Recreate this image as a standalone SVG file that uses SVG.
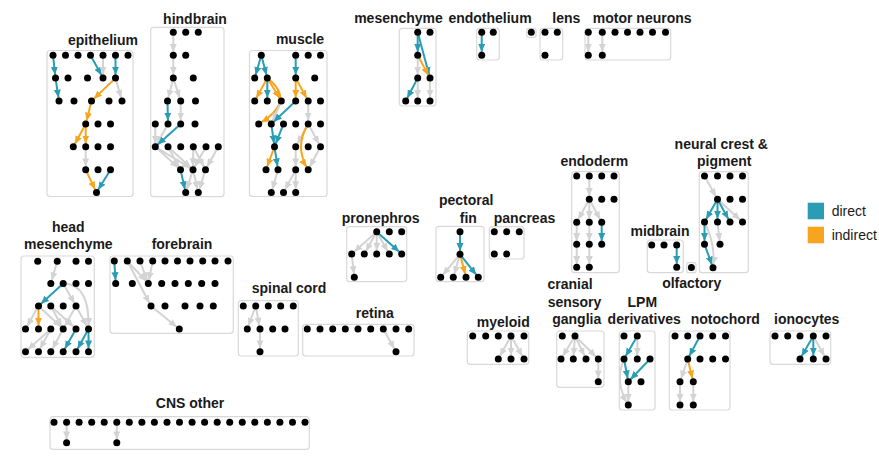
<svg xmlns="http://www.w3.org/2000/svg" width="879" height="469" viewBox="0 0 879 469">
<style>
.box{fill:none;stroke:#d9d9d9;stroke-width:1.2}
.lbl{font-family:"Liberation Sans",Arial,sans-serif;font-weight:bold;font-size:14px;fill:#1a1a1a;text-anchor:middle}
.leg{font-family:"Liberation Sans",Arial,sans-serif;font-size:14px;fill:#1a1a1a}
circle{fill:#000;r:3.5px}
.g{stroke:#d3d3d3;stroke-width:2;fill:none;marker-end:url(#ag)}
.t{stroke:#2a9db5;stroke-width:2;fill:none;marker-end:url(#at)}
.o{stroke:#f7a51f;stroke-width:2;fill:none;marker-end:url(#ao)}
</style>
<defs>
<marker id="ag" markerWidth="9" markerHeight="8" refX="11.3" refY="3.5" orient="auto" markerUnits="userSpaceOnUse"><path d="M0,0 L8,3.5 L0,7 z" fill="#d3d3d3"/></marker>
<marker id="at" markerWidth="9" markerHeight="8" refX="11.3" refY="3.5" orient="auto" markerUnits="userSpaceOnUse"><path d="M0,0 L8,3.5 L0,7 z" fill="#2a9db5"/></marker>
<marker id="ao" markerWidth="9" markerHeight="8" refX="11.3" refY="3.5" orient="auto" markerUnits="userSpaceOnUse"><path d="M0,0 L8,3.5 L0,7 z" fill="#f7a51f"/></marker>
</defs>
<rect width="879" height="469" fill="#fff"/>
<g id="connectors">
<!-- epithelium -->
<line class="t" x1="53" y1="55.2" x2="55.5" y2="78.1"/>
<line class="t" x1="55.5" y1="78.1" x2="59" y2="101"/>
<line class="t" x1="90.5" y1="55.2" x2="103" y2="78.1"/>
<line class="g" x1="103" y1="55.2" x2="103" y2="78.1"/>
<line class="t" x1="115.5" y1="55.2" x2="115.5" y2="78.1"/>
<line class="g" x1="115.5" y1="78.1" x2="122" y2="101"/>
<line class="o" x1="115.5" y1="78.1" x2="91.5" y2="101"/>
<line class="o" x1="91.5" y1="101" x2="85.7" y2="123.9"/>
<line class="o" x1="85.7" y1="123.9" x2="73.3" y2="146.8"/>
<line class="o" x1="85.7" y1="123.9" x2="85.7" y2="146.8"/>
<line class="g" x1="85.7" y1="146.8" x2="85.7" y2="169.7"/>
<line class="o" x1="85.7" y1="169.7" x2="96.5" y2="192.6"/>
<line class="t" x1="110.5" y1="169.7" x2="96.5" y2="192.6"/>
<!-- hindbrain -->
<line class="g" x1="173.3" y1="32.3" x2="173.3" y2="55.2"/>
<line class="g" x1="173.3" y1="55.2" x2="173.3" y2="78.1"/>
<line class="g" x1="173.3" y1="78.1" x2="167.5" y2="101"/>
<line class="g" x1="173.3" y1="78.1" x2="180.7" y2="101"/>
<line class="t" x1="167.5" y1="101" x2="168" y2="123.9"/>
<line class="g" x1="180.7" y1="101" x2="180.7" y2="123.9"/>
<line class="g" x1="155.3" y1="123.9" x2="155.3" y2="146.8"/>
<line class="g" x1="168" y1="123.9" x2="155.3" y2="146.8"/>
<line class="t" x1="180.7" y1="123.9" x2="155.3" y2="146.8"/>
<line class="g" x1="155.3" y1="146.8" x2="180.5" y2="169.7"/>
<line class="g" x1="155.3" y1="146.8" x2="193" y2="169.7"/>
<line class="g" x1="168" y1="146.8" x2="180.5" y2="169.7"/>
<line class="g" x1="168" y1="146.8" x2="193" y2="169.7"/>
<line class="g" x1="193.3" y1="146.8" x2="193" y2="169.7"/>
<line class="g" x1="206" y1="146.8" x2="193" y2="169.7"/>
<line class="g" x1="218.3" y1="146.8" x2="205.5" y2="169.7"/>
<line class="g" x1="193.3" y1="146.8" x2="205.5" y2="169.7"/>
<line class="t" x1="180.5" y1="169.7" x2="185.7" y2="192.6"/>
<line class="g" x1="193" y1="169.7" x2="185.7" y2="192.6"/>
<line class="g" x1="193" y1="169.7" x2="198.3" y2="192.6"/>
<line class="g" x1="205.5" y1="169.7" x2="198.3" y2="192.6"/>
<!-- muscle -->
<line class="t" x1="261.3" y1="55.2" x2="254.7" y2="78.1"/>
<line class="t" x1="261.3" y1="55.2" x2="267.3" y2="78.1"/>
<line class="o" x1="267.3" y1="78.1" x2="254.7" y2="101"/>
<line class="t" x1="267.3" y1="78.1" x2="267.3" y2="101"/>
<line class="o" x1="267.3" y1="78.1" x2="281.3" y2="101"/>
<path class="o" d="M267.3,78.1 Q297,101 258.7,123.9"/>
<line class="g" x1="281.3" y1="101" x2="271.3" y2="123.9"/>
<line class="t" x1="295.7" y1="55.2" x2="295.7" y2="78.1"/>
<line class="o" x1="295.7" y1="78.1" x2="295.7" y2="101"/>
<line class="o" x1="295.7" y1="78.1" x2="308.2" y2="101"/>
<line class="t" x1="295.7" y1="101" x2="271.3" y2="123.9"/>
<line class="g" x1="308.2" y1="101" x2="308.2" y2="123.9"/>
<line class="t" x1="271.3" y1="123.9" x2="274.5" y2="146.8"/>
<line class="t" x1="283.5" y1="123.9" x2="274.5" y2="146.8"/>
<line class="t" x1="274.5" y1="146.8" x2="278" y2="169.7"/>
<line class="o" x1="274.5" y1="146.8" x2="266" y2="169.7"/>
<line class="g" x1="308.2" y1="123.9" x2="295.7" y2="146.8"/>
<line class="g" x1="308.2" y1="123.9" x2="320.5" y2="146.8"/>
<path class="o" d="M308.2,123.9 Q293.8,146.8 308.2,169.7"/>
<line class="g" x1="320.5" y1="146.8" x2="308.2" y2="169.7"/>
<line class="g" x1="295.7" y1="146.8" x2="295.7" y2="169.7"/>
<line class="g" x1="295.7" y1="169.7" x2="283.5" y2="192.6"/>
<line class="g" x1="295.7" y1="169.7" x2="295.7" y2="192.6"/>
<line class="g" x1="278" y1="169.7" x2="271.3" y2="192.6"/>
<!-- mesenchyme -->
<line class="t" x1="417.7" y1="32.3" x2="417.7" y2="55.2"/>
<line class="t" x1="417.7" y1="32.3" x2="430" y2="78.1"/>
<line class="o" x1="417.7" y1="55.2" x2="430" y2="78.1"/>
<line class="g" x1="417.7" y1="55.2" x2="417.7" y2="78.1"/>
<line class="t" x1="417.7" y1="78.1" x2="405.7" y2="101"/>
<line class="g" x1="417.7" y1="78.1" x2="417.7" y2="101"/>
<line class="g" x1="430" y1="78.1" x2="430" y2="101"/>
<!-- endothelium -->
<line class="t" x1="481.7" y1="32.3" x2="481.7" y2="55.2"/>
<!-- motor neurons -->
<line class="g" x1="588.3" y1="32.3" x2="588.3" y2="55.2"/>
<line class="g" x1="602.3" y1="32.3" x2="602.3" y2="55.2"/>
<!-- head mesenchyme -->
<line class="g" x1="57.3" y1="261.3" x2="50.8" y2="283.5"/>
<line class="t" x1="63.2" y1="283.5" x2="38.5" y2="306"/>
<line class="g" x1="63.2" y1="283.5" x2="76" y2="306"/>
<path class="g" d="M63.2,283.5 Q90.2,283.8 88.5,329"/>
<line class="o" x1="38.5" y1="306" x2="38.5" y2="329"/>
<line class="g" x1="38.5" y1="306" x2="25.5" y2="329"/>
<line class="g" x1="38.5" y1="306" x2="63.2" y2="329"/>
<line class="g" x1="50.8" y1="306" x2="63.2" y2="329"/>
<line class="g" x1="76" y1="306" x2="63.2" y2="329"/>
<line class="g" x1="50.8" y1="306" x2="76" y2="329"/>
<line class="g" x1="76" y1="306" x2="88.5" y2="329"/>
<line class="g" x1="50.8" y1="329" x2="25.5" y2="351.7"/>
<line class="g" x1="50.8" y1="329" x2="38.5" y2="351.7"/>
<line class="g" x1="63.2" y1="329" x2="50.8" y2="351.7"/>
<line class="t" x1="76" y1="329" x2="63.2" y2="351.7"/>
<line class="t" x1="88.5" y1="329" x2="76" y2="351.7"/>
<line class="t" x1="88.5" y1="329" x2="88.5" y2="351.7"/>
<!-- forebrain -->
<line class="t" x1="114.3" y1="261" x2="115.7" y2="283.5"/>
<line class="g" x1="127.3" y1="261" x2="148.3" y2="283.5"/>
<line class="g" x1="140" y1="261" x2="148.3" y2="283.5"/>
<line class="g" x1="152.7" y1="261" x2="148.3" y2="283.5"/>
<line class="g" x1="127.3" y1="261" x2="151" y2="306"/>
<line class="g" x1="151" y1="306" x2="179.3" y2="329"/>
<!-- pronephros -->
<line class="g" x1="376.7" y1="231.7" x2="351.7" y2="254"/>
<line class="g" x1="376.7" y1="231.7" x2="364.3" y2="254"/>
<line class="g" x1="376.7" y1="231.7" x2="376.7" y2="254"/>
<line class="g" x1="376.7" y1="231.7" x2="389.3" y2="254"/>
<line class="t" x1="376.7" y1="231.7" x2="401.7" y2="254"/>
<line class="g" x1="351.7" y1="254" x2="354.3" y2="277.3"/>
<!-- pectoral fin -->
<line class="t" x1="460" y1="231.7" x2="460" y2="254.3"/>
<line class="g" x1="460" y1="254.3" x2="440.7" y2="277.3"/>
<line class="g" x1="460" y1="254.3" x2="453.3" y2="277.3"/>
<line class="o" x1="460" y1="254.3" x2="466" y2="277.3"/>
<line class="t" x1="460" y1="254.3" x2="478.3" y2="277.3"/>
<!-- spinal cord -->
<line class="g" x1="255.7" y1="306" x2="247.3" y2="329"/>
<line class="g" x1="255.7" y1="306" x2="260" y2="329"/>
<line class="g" x1="260" y1="329" x2="260" y2="351.7"/>
<!-- retina -->
<line class="g" x1="383.3" y1="329" x2="396" y2="351.7"/>
<!-- myeloid -->
<line class="g" x1="511" y1="336" x2="498.3" y2="359"/>
<line class="g" x1="511" y1="336" x2="511" y2="359"/>
<line class="g" x1="511" y1="336" x2="524" y2="359"/>
<!-- cranial sensory ganglia -->
<line class="g" x1="575" y1="336" x2="561" y2="359"/>
<line class="g" x1="575" y1="336" x2="573.3" y2="359"/>
<line class="g" x1="575" y1="336" x2="586" y2="359"/>
<line class="g" x1="575" y1="336" x2="598.3" y2="359"/>
<line class="g" x1="598.3" y1="359" x2="598.3" y2="381.7"/>
<!-- LPM derivatives -->
<line class="t" x1="637.3" y1="336" x2="624" y2="359"/>
<line class="g" x1="637.3" y1="336" x2="637.3" y2="359"/>
<path class="g" d="M624,359 Q614,382 628.3,405"/>
<line class="g" x1="628.3" y1="381.7" x2="628.3" y2="405"/>
<line class="t" x1="624" y1="359" x2="628.3" y2="381.7"/>
<line class="t" x1="650" y1="359" x2="628.3" y2="381.7"/>
<!-- notochord -->
<line class="t" x1="700" y1="336" x2="687.7" y2="359"/>
<line class="g" x1="687.7" y1="359" x2="680" y2="381.7"/>
<line class="o" x1="687.7" y1="359" x2="693.3" y2="381.7"/>
<line class="g" x1="680" y1="381.7" x2="680" y2="405"/>
<line class="g" x1="693.3" y1="381.7" x2="693.3" y2="405"/>
<!-- ionocytes -->
<line class="t" x1="813.3" y1="336" x2="800" y2="359"/>
<line class="t" x1="813.3" y1="336" x2="813.3" y2="359"/>
<line class="g" x1="813.3" y1="336" x2="826" y2="359"/>
<!-- endoderm -->
<line class="g" x1="589.3" y1="176" x2="589.3" y2="199.3"/>
<line class="g" x1="589.3" y1="199.3" x2="576.7" y2="222.3"/>
<line class="g" x1="589.3" y1="199.3" x2="589.3" y2="222.3"/>
<line class="g" x1="589.3" y1="199.3" x2="601.7" y2="222.3"/>
<line class="t" x1="601.7" y1="222.3" x2="601.7" y2="244.3"/>
<line class="g" x1="576.7" y1="222.3" x2="576.7" y2="244.3"/>
<line class="g" x1="589.3" y1="222.3" x2="589.3" y2="244.3"/>
<line class="g" x1="576.7" y1="244.3" x2="576.7" y2="267.3"/>
<line class="g" x1="589.3" y1="244.3" x2="589.3" y2="267.3"/>
<!-- neural crest & pigment -->
<line class="g" x1="704.5" y1="176" x2="717.5" y2="199.3"/>
<line class="g" x1="717.5" y1="199.3" x2="742.5" y2="222"/>
<line class="t" x1="717.5" y1="199.3" x2="704.5" y2="222"/>
<line class="t" x1="717.5" y1="199.3" x2="717.5" y2="222"/>
<line class="t" x1="717.5" y1="199.3" x2="730" y2="222"/>
<line class="g" x1="717.5" y1="222" x2="720" y2="244.3"/>
<path class="g" d="M704.5,222 Q716,245 713,267.8"/>
<line class="t" x1="704.5" y1="222" x2="704.5" y2="244.3"/>
<line class="t" x1="704.5" y1="244.3" x2="713" y2="267.8"/>
<!-- midbrain -->
<line class="t" x1="676.7" y1="245" x2="676.7" y2="267.3"/>
<!-- CNS other -->
<line class="g" x1="66.6" y1="422.3" x2="66.6" y2="442.7"/>
<line class="g" x1="116.8" y1="422.3" x2="116.8" y2="442.7"/>
</g>

<g id="epithelium">
<rect class="box" x="47" y="50.5" width="86" height="146" rx="3"/>
<text class="lbl" x="103" y="44.5">epithelium</text>
<circle cx="53" cy="55.2" r="3.5"/><circle cx="65.5" cy="55.2" r="3.5"/><circle cx="78" cy="55.2" r="3.5"/><circle cx="90.5" cy="55.2" r="3.5"/><circle cx="103" cy="55.2" r="3.5"/><circle cx="115.5" cy="55.2" r="3.5"/><circle cx="128" cy="55.2" r="3.5"/>
<circle cx="55.5" cy="78.1" r="3.5"/><circle cx="68" cy="78.1" r="3.5"/><circle cx="87.5" cy="78.1" r="3.5"/><circle cx="103" cy="78.1" r="3.5"/><circle cx="115.5" cy="78.1" r="3.5"/>
<circle cx="59" cy="101" r="3.5"/><circle cx="74" cy="101" r="3.5"/><circle cx="91.5" cy="101" r="3.5"/><circle cx="109" cy="101" r="3.5"/><circle cx="122" cy="101" r="3.5"/>
<circle cx="85.7" cy="123.9" r="3.5"/><circle cx="98" cy="123.9" r="3.5"/><circle cx="110.5" cy="123.9" r="3.5"/>
<circle cx="73.3" cy="146.8" r="3.5"/><circle cx="85.7" cy="146.8" r="3.5"/><circle cx="98" cy="146.8" r="3.5"/><circle cx="110.5" cy="146.8" r="3.5"/>
<circle cx="85.7" cy="169.7" r="3.5"/><circle cx="98" cy="169.7" r="3.5"/><circle cx="110.5" cy="169.7" r="3.5"/>
<circle cx="96.5" cy="192.6" r="3.5"/>
</g>

<g id="hindbrain">
<rect class="box" x="150.7" y="27.3" width="73.3" height="169.4" rx="3"/>
<text class="lbl" x="195" y="24">hindbrain</text>
<circle cx="173.3" cy="32.3" r="3.5"/><circle cx="185.7" cy="32.3" r="3.5"/><circle cx="198.3" cy="32.3" r="3.5"/>
<circle cx="173.3" cy="55.2" r="3.5"/><circle cx="185.7" cy="55.2" r="3.5"/>
<circle cx="173.3" cy="78.1" r="3.5"/><circle cx="193.3" cy="78.1" r="3.5"/>
<circle cx="167.5" cy="101" r="3.5"/><circle cx="180.7" cy="101" r="3.5"/><circle cx="195.5" cy="101" r="3.5"/>
<circle cx="155.3" cy="123.9" r="3.5"/><circle cx="168" cy="123.9" r="3.5"/><circle cx="180.7" cy="123.9" r="3.5"/><circle cx="195" cy="123.9" r="3.5"/>
<circle cx="155.3" cy="146.8" r="3.5"/><circle cx="168" cy="146.8" r="3.5"/><circle cx="180.7" cy="146.8" r="3.5"/><circle cx="193.3" cy="146.8" r="3.5"/><circle cx="206" cy="146.8" r="3.5"/><circle cx="218.3" cy="146.8" r="3.5"/>
<circle cx="180.5" cy="169.7" r="3.5"/><circle cx="193" cy="169.7" r="3.5"/><circle cx="205.5" cy="169.7" r="3.5"/>
<circle cx="185.7" cy="192.6" r="3.5"/><circle cx="198.3" cy="192.6" r="3.5"/>
</g>

<g id="muscle">
<rect class="box" x="249.5" y="50.5" width="77.5" height="146" rx="3"/>
<text class="lbl" x="300" y="43.5">muscle</text>
<circle cx="261.3" cy="55.2" r="3.5"/><circle cx="295.7" cy="55.2" r="3.5"/><circle cx="308.2" cy="55.2" r="3.5"/><circle cx="320.5" cy="55.2" r="3.5"/>
<circle cx="254.7" cy="78.1" r="3.5"/><circle cx="267.3" cy="78.1" r="3.5"/><circle cx="295.7" cy="78.1" r="3.5"/><circle cx="314.7" cy="78.1" r="3.5"/>
<circle cx="254.7" cy="101" r="3.5"/><circle cx="267.3" cy="101" r="3.5"/><circle cx="281.3" cy="101" r="3.5"/><circle cx="295.7" cy="101" r="3.5"/><circle cx="308.2" cy="101" r="3.5"/><circle cx="320.5" cy="101" r="3.5"/>
<circle cx="258.7" cy="123.9" r="3.5"/><circle cx="271.3" cy="123.9" r="3.5"/><circle cx="283.5" cy="123.9" r="3.5"/><circle cx="295.7" cy="123.9" r="3.5"/><circle cx="308.2" cy="123.9" r="3.5"/><circle cx="320.5" cy="123.9" r="3.5"/>
<circle cx="274.5" cy="146.8" r="3.5"/><circle cx="295.7" cy="146.8" r="3.5"/><circle cx="308.2" cy="146.8" r="3.5"/><circle cx="320.5" cy="146.8" r="3.5"/>
<circle cx="266" cy="169.7" r="3.5"/><circle cx="278" cy="169.7" r="3.5"/><circle cx="295.7" cy="169.7" r="3.5"/><circle cx="308.2" cy="169.7" r="3.5"/>
<circle cx="271.3" cy="192.6" r="3.5"/><circle cx="283.5" cy="192.6" r="3.5"/><circle cx="295.7" cy="192.6" r="3.5"/>
</g>

<g id="mesenchyme">
<rect class="box" x="399.3" y="28.3" width="36.7" height="77.7" rx="3"/>
<text class="lbl" x="398.5" y="23.3">mesenchyme</text>
<circle cx="417.7" cy="32.3" r="3.5"/><circle cx="430" cy="32.3" r="3.5"/>
<circle cx="417.7" cy="55.2" r="3.5"/>
<circle cx="417.7" cy="78.1" r="3.5"/><circle cx="430" cy="78.1" r="3.5"/>
<circle cx="405.7" cy="101" r="3.5"/><circle cx="417.7" cy="101" r="3.5"/><circle cx="430" cy="101" r="3.5"/>
</g>

<g id="endothelium">
<rect class="box" x="476.7" y="28.3" width="22.6" height="31.7" rx="3"/>
<text class="lbl" x="490" y="23.3">endothelium</text>
<circle cx="481.7" cy="32.3" r="3.5"/><circle cx="493.3" cy="32.3" r="3.5"/>
<circle cx="481.7" cy="55.2" r="3.5"/>
</g>

<g id="lens">
<rect class="box" x="526.7" y="28.3" width="9.3" height="9" rx="2"/>
<rect class="box" x="540" y="28.3" width="22.7" height="31.7" rx="3"/>
<text class="lbl" x="566.3" y="23.3">lens</text>
<circle cx="531.3" cy="32.3" r="3.5"/>
<circle cx="545" cy="32.3" r="3.5"/><circle cx="557.3" cy="32.3" r="3.5"/>
<circle cx="545" cy="55.2" r="3.5"/>
</g>

<g id="motor-neurons">
<rect class="box" x="585" y="28.3" width="85.7" height="31.7" rx="3"/>
<text class="lbl" x="642.2" y="23.3">motor neurons</text>
<circle cx="588.3" cy="32.3" r="3.5"/><circle cx="602.3" cy="32.3" r="3.5"/><circle cx="615" cy="32.3" r="3.5"/><circle cx="627.5" cy="32.3" r="3.5"/><circle cx="640" cy="32.3" r="3.5"/><circle cx="652.5" cy="32.3" r="3.5"/><circle cx="665.5" cy="32.3" r="3.5"/>
<circle cx="588.3" cy="55.2" r="3.5"/><circle cx="602.3" cy="55.2" r="3.5"/>
</g>

<g id="head-mesenchyme">
<rect class="box" x="21" y="256" width="73.3" height="101.3" rx="3"/>
<text class="lbl" x="68.3" y="232">head</text>
<text class="lbl" x="68.3" y="249">mesenchyme</text>
<circle cx="37.7" cy="261.3" r="3.5"/><circle cx="57.3" cy="261.3" r="3.5"/><circle cx="76" cy="261.3" r="3.5"/><circle cx="88.5" cy="261.3" r="3.5"/>
<circle cx="50.8" cy="283.5" r="3.5"/><circle cx="63.2" cy="283.5" r="3.5"/><circle cx="76" cy="283.5" r="3.5"/><circle cx="88.5" cy="283.5" r="3.5"/>
<circle cx="38.5" cy="306" r="3.5"/><circle cx="50.8" cy="306" r="3.5"/><circle cx="63.2" cy="306" r="3.5"/><circle cx="76" cy="306" r="3.5"/>
<circle cx="25.5" cy="329" r="3.5"/><circle cx="38.5" cy="329" r="3.5"/><circle cx="50.8" cy="329" r="3.5"/><circle cx="63.2" cy="329" r="3.5"/><circle cx="76" cy="329" r="3.5"/><circle cx="88.5" cy="329" r="3.5"/>
<circle cx="25.5" cy="351.7" r="3.5"/><circle cx="38.5" cy="351.7" r="3.5"/><circle cx="50.8" cy="351.7" r="3.5"/><circle cx="63.2" cy="351.7" r="3.5"/><circle cx="76" cy="351.7" r="3.5"/><circle cx="88.5" cy="351.7" r="3.5"/>
</g>

<g id="forebrain">
<rect class="box" x="110" y="256" width="123.3" height="77.3" rx="3"/>
<text class="lbl" x="182" y="249">forebrain</text>
<circle cx="114.3" cy="261" r="3.5"/><circle cx="127.3" cy="261" r="3.5"/><circle cx="140" cy="261" r="3.5"/><circle cx="152.7" cy="261" r="3.5"/><circle cx="165" cy="261" r="3.5"/><circle cx="177.5" cy="261" r="3.5"/><circle cx="190" cy="261" r="3.5"/><circle cx="202.7" cy="261" r="3.5"/><circle cx="215" cy="261" r="3.5"/><circle cx="228" cy="261" r="3.5"/>
<circle cx="115.7" cy="283.5" r="3.5"/><circle cx="132.3" cy="283.5" r="3.5"/><circle cx="148.3" cy="283.5" r="3.5"/><circle cx="161.7" cy="283.5" r="3.5"/><circle cx="175" cy="283.5" r="3.5"/><circle cx="188.3" cy="283.5" r="3.5"/><circle cx="201.7" cy="283.5" r="3.5"/><circle cx="215" cy="283.5" r="3.5"/>
<circle cx="151" cy="306" r="3.5"/><circle cx="165" cy="306" r="3.5"/><circle cx="185" cy="306" r="3.5"/><circle cx="200" cy="306" r="3.5"/><circle cx="213.3" cy="306" r="3.5"/>
<circle cx="179.3" cy="329" r="3.5"/>
</g>

<g id="pronephros">
<rect class="box" x="346.7" y="226.7" width="60" height="55" rx="3"/>
<text class="lbl" x="380.7" y="222.7">pronephros</text>
<circle cx="376.7" cy="231.7" r="3.5"/><circle cx="389.3" cy="231.7" r="3.5"/><circle cx="401.7" cy="231.7" r="3.5"/>
<circle cx="351.7" cy="254" r="3.5"/><circle cx="364.3" cy="254" r="3.5"/><circle cx="376.7" cy="254" r="3.5"/><circle cx="389.3" cy="254" r="3.5"/><circle cx="401.7" cy="254" r="3.5"/>
<circle cx="354.3" cy="277.3" r="3.5"/>
</g>

<g id="pectoral-fin">
<rect class="box" x="436" y="226.3" width="48" height="55.4" rx="3"/>
<text class="lbl" x="466.2" y="205">pectoral</text>
<text class="lbl" x="468.3" y="222.7">fin</text>
<circle cx="460" cy="231.7" r="3.5"/>
<circle cx="460" cy="254.3" r="3.5"/>
<circle cx="440.7" cy="277.3" r="3.5"/><circle cx="453.3" cy="277.3" r="3.5"/><circle cx="466" cy="277.3" r="3.5"/><circle cx="478.3" cy="277.3" r="3.5"/>
</g>

<g id="pancreas">
<rect class="box" x="489.3" y="226.7" width="34.7" height="32.3" rx="3"/>
<text class="lbl" x="524.5" y="222.7">pancreas</text>
<circle cx="494.3" cy="231.7" r="3.5"/><circle cx="506.7" cy="231.7" r="3.5"/><circle cx="519.3" cy="231.7" r="3.5"/>
<circle cx="494.3" cy="254" r="3.5"/><circle cx="506.7" cy="254" r="3.5"/>
</g>

<g id="spinal-cord">
<rect class="box" x="238.3" y="300.7" width="60" height="55.3" rx="3"/>
<text class="lbl" x="289" y="293.3">spinal cord</text>
<circle cx="243.3" cy="306" r="3.5"/><circle cx="255.7" cy="306" r="3.5"/><circle cx="268.3" cy="306" r="3.5"/><circle cx="280.7" cy="306" r="3.5"/><circle cx="293.3" cy="306" r="3.5"/>
<circle cx="247.3" cy="329" r="3.5"/><circle cx="260" cy="329" r="3.5"/><circle cx="272.7" cy="329" r="3.5"/><circle cx="285" cy="329" r="3.5"/>
<circle cx="260" cy="351.7" r="3.5"/>
</g>

<g id="retina">
<rect class="box" x="302.7" y="324.3" width="111.3" height="31.7" rx="3"/>
<text class="lbl" x="374.8" y="318.3">retina</text>
<circle cx="307.3" cy="329" r="3.5"/><circle cx="320" cy="329" r="3.5"/><circle cx="332.7" cy="329" r="3.5"/><circle cx="345.3" cy="329" r="3.5"/><circle cx="358" cy="329" r="3.5"/><circle cx="370.7" cy="329" r="3.5"/><circle cx="383.3" cy="329" r="3.5"/><circle cx="396" cy="329" r="3.5"/><circle cx="408.7" cy="329" r="3.5"/>
<circle cx="396" cy="351.7" r="3.5"/>
</g>

<g id="myeloid">
<rect class="box" x="467.3" y="331" width="61.4" height="33.3" rx="3"/>
<text class="lbl" x="503.3" y="326.7">myeloid</text>
<circle cx="472.7" cy="336" r="3.5"/><circle cx="485.7" cy="336" r="3.5"/><circle cx="498.3" cy="336" r="3.5"/><circle cx="511" cy="336" r="3.5"/><circle cx="524" cy="336" r="3.5"/>
<circle cx="498.3" cy="359" r="3.5"/><circle cx="511" cy="359" r="3.5"/><circle cx="524" cy="359" r="3.5"/>
</g>

<g id="cranial-sensory-ganglia">
<rect class="box" x="556.7" y="331" width="47.3" height="56.3" rx="3"/>
<text class="lbl" x="570" y="289.3">cranial</text>
<text class="lbl" x="574.5" y="306.7">sensory</text>
<text class="lbl" x="576.7" y="324.3">ganglia</text>
<circle cx="562.3" cy="336" r="3.5"/><circle cx="575" cy="336" r="3.5"/>
<circle cx="561" cy="359" r="3.5"/><circle cx="573.3" cy="359" r="3.5"/><circle cx="586" cy="359" r="3.5"/><circle cx="598.3" cy="359" r="3.5"/>
<circle cx="598.3" cy="381.7" r="3.5"/>
</g>

<g id="lpm-derivatives">
<rect class="box" x="619.3" y="331" width="35.7" height="79" rx="3"/>
<text class="lbl" x="642.3" y="306.7">LPM</text>
<text class="lbl" x="644.2" y="324.3">derivatives</text>
<circle cx="624" cy="336" r="3.5"/><circle cx="637.3" cy="336" r="3.5"/>
<circle cx="624" cy="359" r="3.5"/><circle cx="637.3" cy="359" r="3.5"/><circle cx="650" cy="359" r="3.5"/>
<circle cx="628.3" cy="381.7" r="3.5"/><circle cx="641" cy="381.7" r="3.5"/>
<circle cx="628.3" cy="405" r="3.5"/>
</g>

<g id="notochord">
<rect class="box" x="669.3" y="331" width="60.7" height="79" rx="3"/>
<text class="lbl" x="725.3" y="324.3">notochord</text>
<circle cx="675" cy="336" r="3.5"/><circle cx="687.7" cy="336" r="3.5"/><circle cx="700" cy="336" r="3.5"/><circle cx="712.7" cy="336" r="3.5"/><circle cx="725.5" cy="336" r="3.5"/>
<circle cx="687.7" cy="359" r="3.5"/><circle cx="700" cy="359" r="3.5"/><circle cx="712.7" cy="359" r="3.5"/><circle cx="725.5" cy="359" r="3.5"/>
<circle cx="680" cy="381.7" r="3.5"/><circle cx="693.3" cy="381.7" r="3.5"/>
<circle cx="680" cy="405" r="3.5"/><circle cx="693.3" cy="405" r="3.5"/>
</g>

<g id="ionocytes">
<rect class="box" x="770" y="331" width="60.7" height="33.3" rx="3"/>
<text class="lbl" x="806.7" y="324.3">ionocytes</text>
<circle cx="775" cy="336" r="3.5"/><circle cx="787.7" cy="336" r="3.5"/><circle cx="800" cy="336" r="3.5"/><circle cx="813.3" cy="336" r="3.5"/><circle cx="826" cy="336" r="3.5"/>
<circle cx="800" cy="359" r="3.5"/><circle cx="813.3" cy="359" r="3.5"/><circle cx="826" cy="359" r="3.5"/>
</g>

<g id="endoderm">
<rect class="box" x="571.7" y="171.7" width="47.6" height="101" rx="3"/>
<text class="lbl" x="594.3" y="165.7">endoderm</text>
<circle cx="576.7" cy="176" r="3.5"/><circle cx="589.3" cy="176" r="3.5"/><circle cx="601.7" cy="176" r="3.5"/><circle cx="614" cy="176" r="3.5"/>
<circle cx="589.3" cy="199.3" r="3.5"/><circle cx="601.7" cy="199.3" r="3.5"/><circle cx="614" cy="199.3" r="3.5"/>
<circle cx="576.7" cy="222.3" r="3.5"/><circle cx="589.3" cy="222.3" r="3.5"/><circle cx="601.7" cy="222.3" r="3.5"/>
<circle cx="576.7" cy="244.3" r="3.5"/><circle cx="589.3" cy="244.3" r="3.5"/><circle cx="601.7" cy="244.3" r="3.5"/>
<circle cx="576.7" cy="267.3" r="3.5"/><circle cx="589.3" cy="267.3" r="3.5"/>
</g>

<g id="neural-crest-pigment">
<rect class="box" x="699.3" y="171.7" width="49" height="101" rx="3"/>
<text class="lbl" x="721.3" y="149">neural crest &amp;</text>
<text class="lbl" x="724.2" y="165.7">pigment</text>
<circle cx="704.5" cy="176" r="3.5"/><circle cx="717.5" cy="176" r="3.5"/><circle cx="730" cy="176" r="3.5"/><circle cx="742.5" cy="176" r="3.5"/>
<circle cx="717.5" cy="199.3" r="3.5"/><circle cx="730" cy="199.3" r="3.5"/><circle cx="742.5" cy="199.3" r="3.5"/>
<circle cx="704.5" cy="222" r="3.5"/><circle cx="717.5" cy="222" r="3.5"/><circle cx="730" cy="222" r="3.5"/><circle cx="742.5" cy="222" r="3.5"/>
<circle cx="704.5" cy="244.3" r="3.5"/><circle cx="720" cy="244.3" r="3.5"/>
<circle cx="713" cy="267.8" r="3.5"/>
</g>

<g id="midbrain">
<rect class="box" x="647.3" y="240" width="36" height="32.7" rx="3"/>
<text class="lbl" x="660" y="236">midbrain</text>
<circle cx="651.7" cy="245" r="3.5"/><circle cx="664" cy="245" r="3.5"/><circle cx="676.7" cy="245" r="3.5"/>
<circle cx="676.7" cy="267.3" r="3.5"/>
</g>

<g id="olfactory">
<rect class="box" x="686.7" y="262.7" width="9.3" height="10" rx="2"/>
<text class="lbl" x="691.7" y="288.3">olfactory</text>
<circle cx="691.4" cy="267.5" r="3.5"/>
</g>

<g id="cns-other">
<rect class="box" x="50" y="416.7" width="259.3" height="32.6" rx="3"/>
<text class="lbl" x="190" y="408.3">CNS other</text>
<circle cx="54" cy="422.3" r="3.5"/><circle cx="66.6" cy="422.3" r="3.5"/><circle cx="79.1" cy="422.3" r="3.5"/><circle cx="91.7" cy="422.3" r="3.5"/><circle cx="104.2" cy="422.3" r="3.5"/><circle cx="116.8" cy="422.3" r="3.5"/><circle cx="129.3" cy="422.3" r="3.5"/><circle cx="141.9" cy="422.3" r="3.5"/><circle cx="154.4" cy="422.3" r="3.5"/><circle cx="167" cy="422.3" r="3.5"/><circle cx="179.5" cy="422.3" r="3.5"/><circle cx="192.1" cy="422.3" r="3.5"/><circle cx="204.6" cy="422.3" r="3.5"/><circle cx="217.2" cy="422.3" r="3.5"/><circle cx="229.7" cy="422.3" r="3.5"/><circle cx="242.3" cy="422.3" r="3.5"/><circle cx="254.8" cy="422.3" r="3.5"/><circle cx="267.4" cy="422.3" r="3.5"/><circle cx="279.9" cy="422.3" r="3.5"/><circle cx="292.5" cy="422.3" r="3.5"/><circle cx="305" cy="422.3" r="3.5"/>
<circle cx="66.6" cy="442.7" r="3.5"/><circle cx="116.8" cy="442.7" r="3.5"/>
</g>

<g id="legend">
<rect x="807.7" y="202.7" width="16.3" height="16.6" fill="#2a9db5"/>
<text class="leg" x="831.7" y="215.5">direct</text>
<rect x="807.7" y="226.7" width="16.3" height="16.6" fill="#f7a51f"/>
<text class="leg" x="831.7" y="239.5">indirect</text>
</g>
</svg>
